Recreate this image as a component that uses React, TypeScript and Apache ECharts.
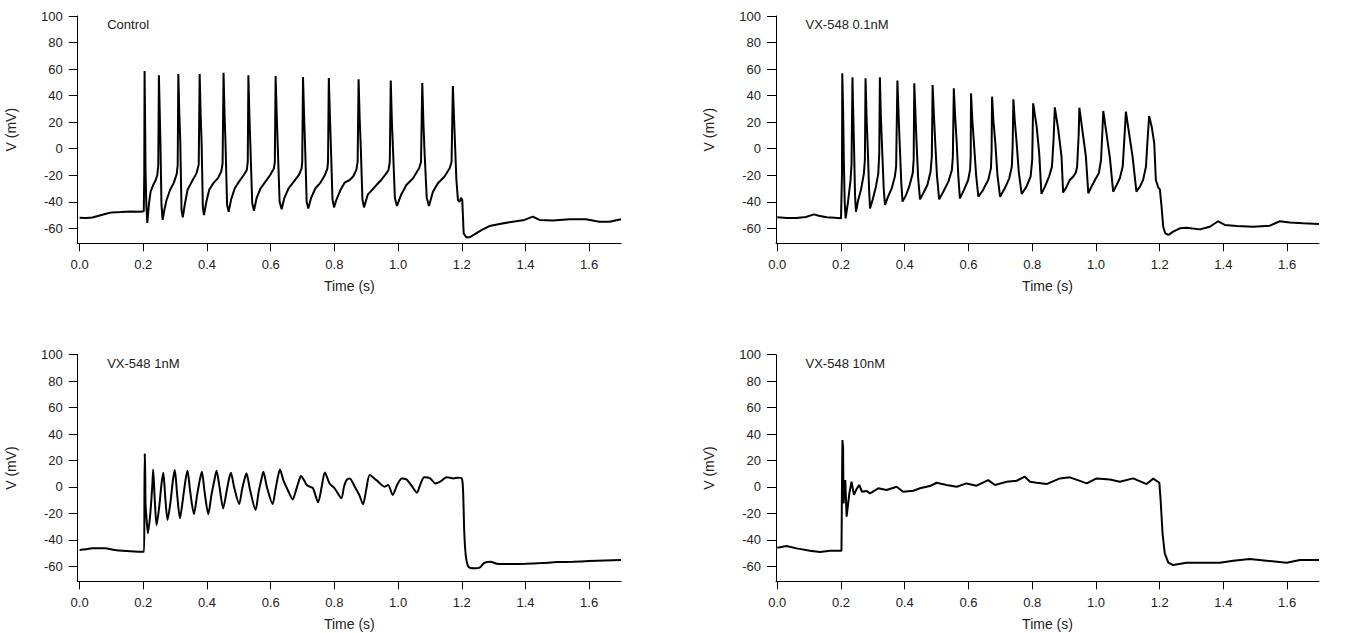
import React, { useEffect, useRef } from "react";
import * as echarts from "echarts";

const panelTitles = ["Control", "VX-548 0.1nM", "VX-548 1nM", "VX-548 10nM"];
const timeTicks = [0, 0.2, 0.4, 0.6, 0.8, 1.0, 1.2, 1.4, 1.6];
const voltTicks = [-60, -40, -20, 0, 20, 40, 60, 80, 100];
const xAxisName = "Time (s)";
const yAxisName = "V (mV)";

// Control trace: [time (s), voltage (mV)]
const controlTrace = [
  [0, -52], [0.02, -52.3], [0.04, -51.8], [0.06, -50.5], [0.08, -49.2], [0.1, -48], [0.13, -47.8], [0.16, -47.3], [0.19, -47.5], [0.2015, -47.2],
  [0.203, -20], [0.204, 58.6], [0.2055, 25], [0.207, -17], [0.2095, -42], [0.2125, -56], [0.218, -41], [0.223, -32.4], [0.231, -27.4], [0.239, -23.6], [0.244, -19.8], [0.247, -12.3],
  [0.249, 55.3], [0.2515, 28], [0.254, 2], [0.257, -42], [0.2607, -53.7], [0.266, -46.2], [0.273, -38.7], [0.284, -31.1], [0.296, -25.6], [0.305, -19], [0.308, -12.3],
  [0.31, 56.3], [0.313, 26.6], [0.316, 6.6], [0.32, -46], [0.324, -51.7], [0.331, -41], [0.339, -31], [0.352, -25], [0.367, -18.6], [0.374, -12],
  [0.377, 56.3], [0.38, 26], [0.383, 5], [0.387, -44], [0.3905, -50], [0.398, -40], [0.407, -31], [0.42, -26], [0.435, -22], [0.445, -17], [0.449, -11],
  [0.452, 57.3], [0.455, 27], [0.458, 5], [0.463, -42], [0.468, -47.5], [0.476, -38], [0.487, -30], [0.5, -25], [0.515, -20], [0.525, -16], [0.528, -10],
  [0.53, 55.3], [0.533, 26], [0.536, 4], [0.542, -41], [0.5476, -46.7], [0.556, -37], [0.568, -30], [0.583, -25], [0.598, -20], [0.61, -15], [0.613, -10],
  [0.6155, 54.8], [0.619, 25], [0.622, 3], [0.628, -40], [0.6345, -45.7], [0.643, -37], [0.656, -30], [0.672, -25], [0.688, -20], [0.697, -15], [0.699, -10],
  [0.7015, 54], [0.705, 24], [0.708, 2], [0.713, -40], [0.718, -45], [0.727, -37], [0.74, -30], [0.755, -26], [0.77, -20], [0.778, -15], [0.78, -10],
  [0.7825, 53.3], [0.786, 24], [0.789, 2], [0.794, -38], [0.799, -44.2], [0.806, -38.7], [0.819, -31.2], [0.832, -25.6], [0.848, -23.6], [0.859, -21], [0.869, -16], [0.873, -10],
  [0.876, 52.3], [0.8795, 22], [0.883, 0], [0.888, -38], [0.893, -44.2], [0.905, -34.5], [0.915, -32], [0.932, -27.4], [0.947, -23.6], [0.963, -18.6], [0.97, -16], [0.974, -10],
  [0.977, 51.3], [0.9805, 21], [0.984, 0], [0.99, -37], [0.9965, -43.2], [1.01, -34.5], [1.026, -27.4], [1.047, -22.3], [1.066, -14.8], [1.072, -10],
  [1.076, 49.5], [1.0795, 20], [1.083, -2], [1.09, -37], [1.097, -43.2], [1.1095, -32.5], [1.125, -26], [1.146, -21], [1.162, -14.8], [1.168, -10],
  [1.172, 47.2], [1.1775, 11.7], [1.183, -23], [1.188, -38.7], [1.193, -40], [1.198, -37], [1.2015, -38.6], [1.206, -63.8], [1.214, -66.8], [1.2245, -66.8],
  [1.245, -63.8], [1.266, -60.8], [1.287, -58.3], [1.3186, -56.7], [1.36, -55], [1.397, -53.7], [1.423, -51.2], [1.444, -53.7], [1.486, -54.2], [1.538, -53.2],
  [1.59, -53.2], [1.632, -55], [1.664, -55], [1.7, -53.2],
];

// VX-548 0.1 nM trace
const vx01Trace = [
  [0, -51.7], [0.03, -52.2], [0.06, -52.3], [0.09, -51.5], [0.115, -49.5], [0.13, -50.5], [0.155, -51.7], [0.18, -52], [0.2, -52.5], [0.202, -52.5],
  [0.203, -20], [0.204, 56.8], [0.2065, 30], [0.209, -10], [0.2115, -40], [0.2145, -52.5], [0.222, -40], [0.23, -23.6], [0.233, -12],
  [0.236, 53.8], [0.238, 30], [0.241, 0], [0.244, -35], [0.247, -47.5], [0.254, -38.7], [0.2626, -31], [0.272, -18.6], [0.275, -8],
  [0.277, 53], [0.28, 25], [0.284, 0], [0.288, -30], [0.291, -45], [0.299, -38.7], [0.3096, -28.6], [0.317, -18.6], [0.32, -3.5],
  [0.322, 53.8], [0.325, 25], [0.329, 0], [0.334, -30], [0.338, -42.4], [0.348, -36], [0.359, -30], [0.369, -21], [0.373, -13.5],
  [0.377, 51.3], [0.38, 30], [0.384, 5], [0.389, -25], [0.393, -39.9], [0.404, -35], [0.414, -28.6], [0.425, -18.6], [0.428, -8.5],
  [0.43, 49.3], [0.433, 30], [0.437, 5], [0.442, -22], [0.448, -38.2], [0.458, -33.6], [0.471, -27.4], [0.481, -17.3], [0.485, -6],
  [0.4875, 48], [0.491, 28], [0.495, 8], [0.501, -20], [0.508, -38.2], [0.521, -32.4], [0.537, -24.8], [0.548, -16], [0.551, -6],
  [0.554, 45.5], [0.558, 25], [0.563, 5], [0.568, -20], [0.573, -37.4], [0.586, -31], [0.599, -23.6], [0.605, -16], [0.607, -6],
  [0.608, 41.7], [0.612, 22], [0.617, 5], [0.624, -20], [0.631, -36.2], [0.646, -31], [0.662, -23.6], [0.6705, -14.8], [0.6726, -1],
  [0.674, 39.2], [0.678, 22], [0.684, 5], [0.691, -20], [0.699, -36.2], [0.714, -29.9], [0.728, -22.3], [0.736, -13.5], [0.7385, 1.5],
  [0.741, 37.2], [0.745, 22], [0.751, 5], [0.758, -18], [0.767, -34.1], [0.782, -28.6], [0.795, -21], [0.8, -8.5],
  [0.803, 34.2], [0.814, 16.6], [0.822, -3.5], [0.829, -34.1], [0.84, -28.6], [0.853, -21], [0.862, -13.5], [0.867, 6.6],
  [0.871, 31.2], [0.882, 14], [0.892, -6], [0.897, -33.1], [0.908, -28.6], [0.918, -23.6], [0.929, -21], [0.937, -18], [0.941, -13.5], [0.946, 11.6],
  [0.948, 30.9], [0.958, 12.8], [0.9685, -6], [0.976, -33.6], [0.986, -28.6], [0.997, -23.6], [1.009, -18.6], [1.016, -8.5], [1.02, 11.6],
  [1.023, 28.4], [1.033, 11.6], [1.044, -7.3], [1.054, -32.4], [1.065, -27.4], [1.075, -22.3], [1.084, -13.5], [1.089, 6.6],
  [1.094, 27.9], [1.104, 11.6], [1.115, -6], [1.127, -32.4], [1.138, -28.6], [1.148, -23.6], [1.157, -13.5], [1.162, 6.6],
  [1.167, 24.6], [1.175, 16.6], [1.183, 4], [1.188, -23.6], [1.1954, -29.1], [1.2006, -30.6], [1.2059, -43.7], [1.2111, -58.8], [1.2174, -63.8], [1.2278, -65],
  [1.2425, -62.5], [1.2634, -60], [1.2843, -59.5], [1.3261, -60.8], [1.3575, -58.8], [1.3836, -54.7], [1.4046, -57.5], [1.4412, -58.3], [1.4935, -58.8],
  [1.5458, -58], [1.5771, -54.7], [1.6085, -55.7], [1.6503, -56.2], [1.7, -56.7],
];

// VX-548 1 nM trace
const vx1Trace = [
  [0, -47.7], [0.02, -47], [0.04, -46.4], [0.08, -46.4], [0.11, -47.7], [0.15, -48.4], [0.2, -49], [0.2025, -49],
  [0.2035, -10], [0.2045, 24.9], [0.206, 10], [0.207, -13], [0.2105, -25], [0.2145, -35], [0.222, -20], [0.228, 0], [0.231, 13.3],
  [0.236, -10], [0.2417, -28.8], [0.25, -15], [0.257, 2], [0.2627, 10.8], [0.269, -8], [0.276, -25], [0.285, -12], [0.293, 5], [0.299, 12.8],
  [0.306, -5], [0.315, -23.7], [0.325, -8], [0.333, 6], [0.339, 12.3], [0.347, -3], [0.359, -20.5], [0.369, -6], [0.378, 6], [0.384, 11.5],
  [0.392, -3], [0.404, -20.5], [0.414, -6], [0.424, 6], [0.43, 12.3], [0.438, 2], [0.451, -16.2], [0.461, -4], [0.469, 6], [0.475, 10.8],
  [0.485, 0], [0.501, -12.9], [0.51, -2], [0.518, 6], [0.524, 10.3], [0.535, -2], [0.5525, -17.4], [0.562, -4], [0.571, 6], [0.577, 11.5],
  [0.588, 0], [0.606, -12.9], [0.615, -2], [0.623, 8], [0.629, 13.3], [0.64, 5], [0.655, -3], [0.669, -9.4], [0.68, -2], [0.689, 5], [0.695, 8.3],
  [0.705, 5], [0.713, 1.5], [0.725, 0], [0.733, -1], [0.749, -11.6], [0.76, 0], [0.77, 11], [0.785, 2.7], [0.801, -1], [0.822, -8.6], [0.83, 0],
  [0.838, 5.2], [0.848, 6.5], [0.864, 0.2], [0.878, -6], [0.89, -13.1], [0.9, -2], [0.911, 9], [0.932, 5.2], [0.958, 0.2], [0.969, 1.5], [0.983, -6],
  [0.998, 2], [1.0115, 6.5], [1.027, 5.7], [1.045, 0], [1.059, -4.3], [1.07, 2], [1.082, 7.3], [1.101, 6.5], [1.117, 2.7], [1.132, 4], [1.153, 7.3],
  [1.174, 6.5], [1.188, 7], [1.2, 6.5], [1.204, -2.3], [1.208, -35], [1.213, -52.7], [1.221, -60.3], [1.237, -61.5], [1.256, -61], [1.27, -57.5],
  [1.29, -56.5], [1.31, -58], [1.35, -58.3], [1.4, -58], [1.45, -57.5], [1.5, -56.8], [1.55, -56.5], [1.6, -56], [1.65, -55.5], [1.7, -55.2],
];

// VX-548 10 nM trace
const vx10Trace = [
  [0, -45.9], [0.029, -44.6], [0.061, -46.4], [0.1025, -48.2], [0.134, -49.2], [0.165, -48.2], [0.199, -48.2], [0.2015, -48.2],
  [0.203, 0], [0.2045, 35.5], [0.2065, 30], [0.208, -12.4], [0.21, -5], [0.2134, 5.2], [0.2176, -22.5], [0.226, -5], [0.233, 4], [0.2406, -6],
  [0.248, -2], [0.257, 1.5], [0.266, -3.6], [0.28, -3], [0.291, -4.8], [0.317, -1], [0.343, -2.3], [0.3745, 0.2], [0.395, -3.6], [0.427, -2.8],
  [0.448, -1], [0.479, 0.7], [0.5, 3.2], [0.531, 1.5], [0.563, 0.2], [0.594, 2.7], [0.6255, 1], [0.662, 5.2], [0.683, 1.5], [0.7197, 4],
  [0.751, 4.7], [0.777, 7.8], [0.793, 4], [0.814, 3.2], [0.845, 2.2], [0.887, 6.5], [0.918, 7.3], [0.945, 5], [0.971, 2.7], [1.002, 6.5],
  [1.044, 5.7], [1.075, 4], [1.117, 6.5], [1.159, 2.2], [1.18, 6.3], [1.199, 3.2], [1.203, -9.9], [1.209, -35], [1.216, -50.2], [1.227, -57.2],
  [1.2425, -59], [1.284, -57.2], [1.337, -57.2], [1.389, -57.2], [1.431, -55.7], [1.483, -54.5], [1.535, -55.7], [1.598, -57.2], [1.64, -55.2], [1.7, -55.2],
];

const traces = [controlTrace, vx01Trace, vx1Trace, vx10Trace];
const traceSmooth = [false, false, 0.25, false];

const FONT = "Arial, 'Liberation Sans', sans-serif";
const TEXT = "#222";

export default function App() {
  const ref = useRef<HTMLDivElement>(null);
  useEffect(() => {
    if (!ref.current) return;
    const chart = echarts.init(ref.current, null, { renderer: "svg" });
    const grids = [
      { left: 77.7, top: 16, width: 543.3, height: 227.3 },
      { left: 776, top: 16, width: 543, height: 227.3 },
      { left: 77.7, top: 354.7, width: 543.3, height: 226.6 },
      { left: 776, top: 354.7, width: 543, height: 226.6 },
    ];
    const xMins = [-0.006, -0.004, -0.006, -0.004];
    const xAxes = grids.map((_, i) => ({
      type: "value",
      gridIndex: i,
      min: xMins[i],
      max: 1.7,
      name: xAxisName,
      nameLocation: "middle",
      nameGap: 36,
      nameTextStyle: { fontFamily: FONT, fontSize: 14, color: TEXT },
      axisLine: { show: true, onZero: false, lineStyle: { color: "#000", width: 1 } },
      axisTick: { show: true, length: 8, customValues: timeTicks, lineStyle: { color: "#000" } },
      axisLabel: {
        customValues: timeTicks,
        margin: 15,
        fontFamily: FONT,
        fontSize: 13,
        color: TEXT,
        formatter: (v: number) => v.toFixed(1),
      },
      splitLine: { show: false },
    }));
    const yAxes = grids.map((_, i) => ({
      type: "value",
      gridIndex: i,
      min: -71.3,
      max: 100,
      name: yAxisName,
      nameLocation: "middle",
      nameGap: 60,
      nameTextStyle: { fontFamily: FONT, fontSize: 14, color: TEXT },
      axisLine: { show: true, onZero: false, lineStyle: { color: "#000", width: 1 } },
      axisTick: { show: true, length: 9, customValues: voltTicks, lineStyle: { color: "#000" } },
      axisLabel: {
        customValues: voltTicks,
        margin: 15,
        fontFamily: FONT,
        fontSize: 13,
        color: TEXT,
      },
      splitLine: { show: false },
    }));
    const series = traces.map((data, i) => ({
      type: "line",
      xAxisIndex: i,
      yAxisIndex: i,
      data,
      showSymbol: false,
      symbol: "none",
      silent: true,
      smooth: traceSmooth[i],
      lineStyle: { color: "#000", width: 2 },
    }));
    const graphic = panelTitles.map((t, i) => ({
      type: "text",
      x: grids[i].left + 29.5,
      y: grids[i].top + 8.3,
      style: {
        text: t,
        fill: TEXT,
        font: `13px ${FONT}`,
        verticalAlign: "middle",
        align: "left",
      },
    }));
    chart.setOption({
      animation: false,
      backgroundColor: "#fff",
      grid: grids,
      xAxis: xAxes,
      yAxis: yAxes,
      series,
      graphic,
    });
    return () => chart.dispose();
  }, []);
  return (
    <div
      ref={ref}
      style={{ position: "absolute", left: 0, top: 0, width: 1354, height: 633 }}
    />
  );
}
